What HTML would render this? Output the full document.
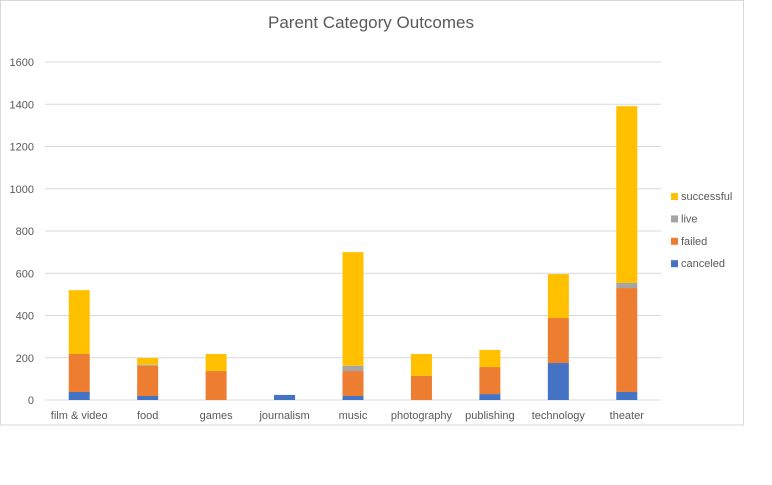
<!DOCTYPE html>
<html><head><meta charset="utf-8"><style>
body{margin:0;background:#fff;width:772px;height:480px;overflow:hidden;font-family:"Liberation Sans",sans-serif}
</style></head><body>
<svg width="772" height="480" font-family="Liberation Sans, sans-serif">
<rect x="0.5" y="0.5" width="743" height="424.5" fill="#fff" stroke="#d9d9d9"/>
<text x="371" y="28" text-anchor="middle" font-size="17" fill="#595959">Parent Category Outcomes</text>
<g id="grid"></g><g id="bars"></g><g id="labels"></g><g id="legend"></g>
</svg>
<script>
const categories=["film & video","food","games","journalism","music","photography","publishing","technology","theater"];
const canceled=[38,19,0,24,19,0,28,175,38];
const failed=[180,143,137,0,118,114,128,213,492];
const live=[0,5,0,0,25,0,0,0,24];
const successful=[302,32,81,0,538,104,81,208,837];
const yTicks=[0,200,400,600,800,1000,1200,1400,1600];
const seriesNames=["canceled","failed","live","successful"];
const colors={canceled:"#4472c4",failed:"#ed7d31",live:"#a5a5a5",successful:"#ffc000"};
const NS="http://www.w3.org/2000/svg";
const x0=45,x1=661,y0=400,y1=62,yMax=1600;
const y=v=>y0-(v/yMax)*(y0-y1);
const band=(x1-x0)/categories.length;
const xc=i=>x0+band*(i+0.5);
function mk(tag,attrs,parent){const e=document.createElementNS(NS,tag);for(const k in attrs)e.setAttribute(k,attrs[k]);parent.appendChild(e);return e;}
const grid=document.getElementById('grid');
yTicks.forEach(t=>{
  const l=mk('line',{x1:x0,x2:x1,y1:y(t),y2:y(t),stroke:'#d9d9d9','stroke-width':1},grid);
  
  
  const tx=mk('text',{x:34,y:y(t)+4,'text-anchor':'end','font-size':11,fill:'#595959'},grid);
  tx.textContent=t;
  
  
});
const data={canceled,failed,live,successful};
const bars=document.getElementById('bars'),labels=document.getElementById('labels');
const bw=21;
categories.forEach((c,i)=>{
  let base=0;
  seriesNames.forEach(s=>{
    const v=data[s][i];
    if(v>0){
      const r=mk('rect',{x:xc(i)-bw/2,y:y(base+v),width:bw,height:y(base)-y(base+v),fill:colors[s]},bars);
      
      
    }
    base+=v;
  });
  const t=mk('text',{x:xc(i),y:419,'text-anchor':'middle','font-size':11,fill:'#595959'},labels);
  t.textContent=c;
  
  
});
const legend=document.getElementById('legend');
["successful","live","failed","canceled"].forEach((s,k)=>{
  const yy=196+k*22.4;
  const r=mk('rect',{x:671,y:yy-3,width:7,height:7,fill:colors[s]},legend);
  
  
  const t=mk('text',{x:681,y:yy+4,'font-size':11,fill:'#595959'},legend);
  t.textContent=s;
  
  
});
</script>
</body></html>
